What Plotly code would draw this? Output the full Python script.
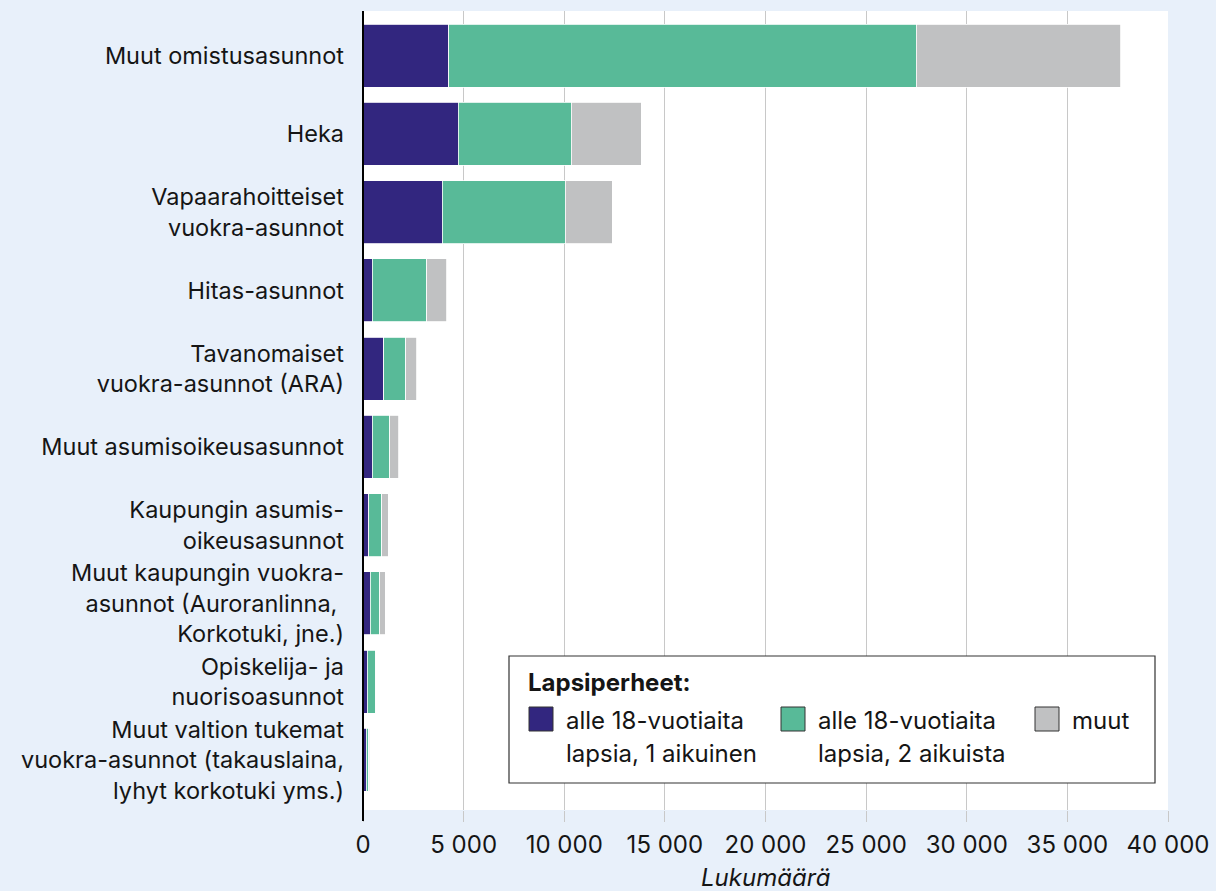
import plotly.graph_objects as go

categories = [
    "Muut omistusasunnot",
    "Heka",
    "Vapaarahoitteiset<br>vuokra-asunnot",
    "Hitas-asunnot",
    "Tavanomaiset<br>vuokra-asunnot (ARA)",
    "Muut asumisoikeusasunnot",
    "Kaupungin asumis-<br>oikeusasunnot",
    "Muut kaupungin vuokra-<br>asunnot (Auroranlinna,&nbsp;<br>Korkotuki, jne.)",
    "Opiskelija- ja<br>nuorisoasunnot",
    "Muut valtion tukemat<br>vuokra-asunnot (takauslaina,<br>lyhyt korkotuki yms.)",
]
one_adult = [4250, 4740, 3950, 460, 1020, 460, 290, 370, 200, 150]
two_adults = [23230, 5610, 6110, 2710, 1110, 860, 640, 460, 400, 130]
others = [10180, 3480, 2330, 990, 550, 450, 330, 280, 40, 60]

series_names = ["alle 18-vuotiaita", "alle 18-vuotiaita", "muut"]
series_names2 = ["lapsia, 1 aikuinen", "lapsia, 2 aikuista", ""]
series_values = [one_adult, two_adults, others]
colors = ["#32267f", "#58ba98", "#c0c1c2"]

tick_vals = [0, 5000, 10000, 15000, 20000, 25000, 30000, 35000, 40000]
tick_text = ["0", "5 000", "10 000", "15 000", "20 000", "25 000", "30 000", "35 000", "40 000"]
x_title = "Lukumäärä"

FONT = "Inter"
FS = 23.5
FL = 24
TXT = "#151515"
BG = "#e8f0fa"

# plot-area pixel geometry (for legend box placement)
L, R, T, B = 363, 1168, 11, 810


def px_x(p):
    return (p - L) / (R - L)


def px_y(p):
    return (B - p) / (B - T)


fig = go.Figure()
for vals, name, col in zip(series_values, series_names, colors):
    fig.add_trace(go.Bar(
        y=categories, x=vals, orientation="h", name=name,
        marker=dict(color=col, line=dict(color="white", width=0.8)),
        showlegend=False,
    ))

shapes = []
annotations = []

# extended y-axis line
shapes.append(dict(type="line", xref="paper", yref="paper", x0=0, x1=0,
                   y0=px_y(821), y1=1, line=dict(color="black", width=2), layer="above"))

# x-axis title
annotations.append(dict(xref="paper", yref="paper", x=0.5, y=px_y(878),
                        xanchor="center", yanchor="middle", showarrow=False,
                        text="<i>" + x_title + "</i>", font=dict(family=FONT, size=FL, color=TXT)))

# legend box
shapes.append(dict(type="rect", xref="paper", yref="paper",
                   x0=px_x(509), x1=px_x(1155), y0=px_y(783), y1=px_y(656),
                   fillcolor="white", line=dict(color="#333333", width=1.2), layer="above"))
annotations.append(dict(xref="paper", yref="paper", x=px_x(526), y=px_y(682),
                        xanchor="left", yanchor="middle", showarrow=False,
                        text="<b>Lapsiperheet:</b>", font=dict(family=FONT, size=FL, color=TXT)))
sq_x = [529, 781, 1035]
for i, (n1, n2, col) in enumerate(zip(series_names, series_names2, colors)):
    x0 = sq_x[i]
    shapes.append(dict(type="rect", xref="paper", yref="paper",
                       x0=px_x(x0), x1=px_x(x0 + 24), y0=px_y(731), y1=px_y(707),
                       fillcolor=col, line=dict(color="#333333", width=1), layer="above"))
    annotations.append(dict(xref="paper", yref="paper", x=px_x(x0 + 35), y=px_y(720),
                            xanchor="left", yanchor="middle", showarrow=False,
                            text=n1, font=dict(family=FONT, size=FL, color=TXT)))
    if n2:
        annotations.append(dict(xref="paper", yref="paper", x=px_x(x0 + 35), y=px_y(753),
                                xanchor="left", yanchor="middle", showarrow=False,
                                text=n2, font=dict(family=FONT, size=FL, color=TXT)))

fig.update_layout(
    width=1216, height=891,
    barmode="stack", bargap=0.195,
    paper_bgcolor=BG, plot_bgcolor="white",
    margin=dict(l=L, r=1216 - R, t=T, b=891 - B, pad=0, autoexpand=False),
    font=dict(family=FONT, size=FS, color=TXT),
    shapes=shapes, annotations=annotations,
    showlegend=False,
)
fig.update_xaxes(
    range=[0, 40000], tickvals=tick_vals, ticktext=tick_text,
    showgrid=True, gridcolor="#c8c8c8", gridwidth=1, zeroline=False,
    ticks="outside", ticklen=11, tickcolor="#c8c8c8", tickwidth=1,
    ticklabelstandoff=2, automargin=False,
    tickfont=dict(family=FONT, size=FL, color=TXT),
    showline=False,
)
fig.update_yaxes(
    categoryorder="array", categoryarray=categories,
    range=[9.64, -0.571], showgrid=False, zeroline=False, showline=False,
    ticks="", ticklabelstandoff=18, automargin=False,
    tickfont=dict(family=FONT, size=FS, color=TXT),
)

fig.write_html(
    "out.html",
    config={"displayModeBar": False},
    post_script="document.body.style.margin='0';document.body.style.overflow='hidden';document.body.style.background='" + BG + "';",
)
